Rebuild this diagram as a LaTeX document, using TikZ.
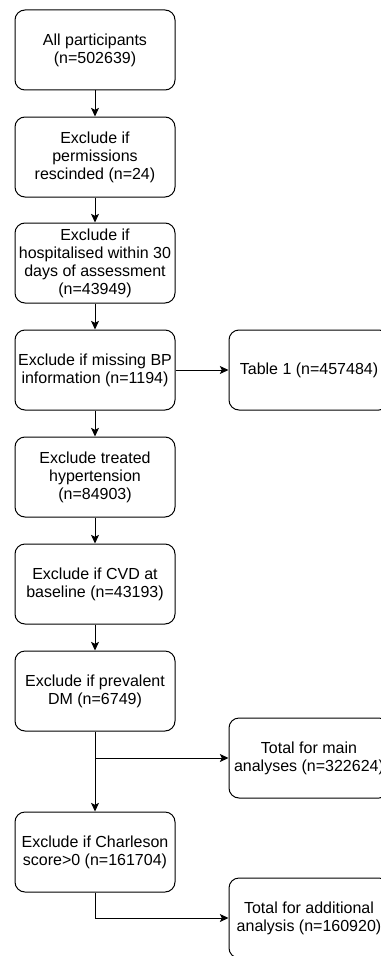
\documentclass[tikz,border=0pt]{standalone}
\usepackage{fontspec}
\setmainfont{Liberation Sans}
\usetikzlibrary{arrows.meta}

\begin{document}
\begin{tikzpicture}[x=0.75pt,y=-0.75pt,
  box/.style={draw,line width=0.75pt,rounded corners=7.5pt,minimum width=120pt,minimum height=60pt,
    align=center,inner sep=1pt,font=\fontsize{12}{13.5}\selectfont},
  arr/.style={-{Stealth[length=6.5pt,width=6pt,inset=1.5pt]},line width=0.75pt}]
\useasboundingbox (0,0) rectangle (381,956);
\clip (0,0) rectangle (381,956);

% main column
\node[box] (all) at (95,50) {All participants\\(n=502639)};
\node[box] (perm) at (95,157) {Exclude if\\permissions\\rescinded (n=24)};
\node[box] (hosp) at (95,263) {Exclude if\\hospitalised within 30\\days of assessment\\(n=43949)};
\node[box] (bp) at (95,370) {Exclude if missing BP\\information (n=1194)};
\node[box] (hyp) at (95,477) {Exclude treated\\hypertension\\(n=84903)};
\node[box] (cvd) at (95,584) {Exclude if CVD at\\baseline (n=43193)};
\node[box] (dm) at (95,691) {Exclude if prevalent\\DM (n=6749)};
\node[box] (charl) at (95,852) {Exclude if Charleson\\score>0 (n=161704)};

% side boxes
\node[box] (tab) at (309,370) {Table 1 (n=457484)};
\node[box] (main) at (309,758) {Total for main\\analyses (n=322624)};
\node[box] (add) at (309,918) {Total for additional\\analysis (n=160920)};

% arrows
\draw[arr] (all) -- (perm);
\draw[arr] (perm) -- (hosp);
\draw[arr] (hosp) -- (bp);
\draw[arr] (bp) -- (hyp);
\draw[arr] (hyp) -- (cvd);
\draw[arr] (cvd) -- (dm);
\draw[arr] (dm) -- (charl);
\draw[arr] (bp) -- (tab);

% branches
\coordinate (split) at (95,758);
\draw[arr] (split) -- (main);
\draw[arr] (charl.south) |- (add.west);
\end{tikzpicture}
\end{document}
